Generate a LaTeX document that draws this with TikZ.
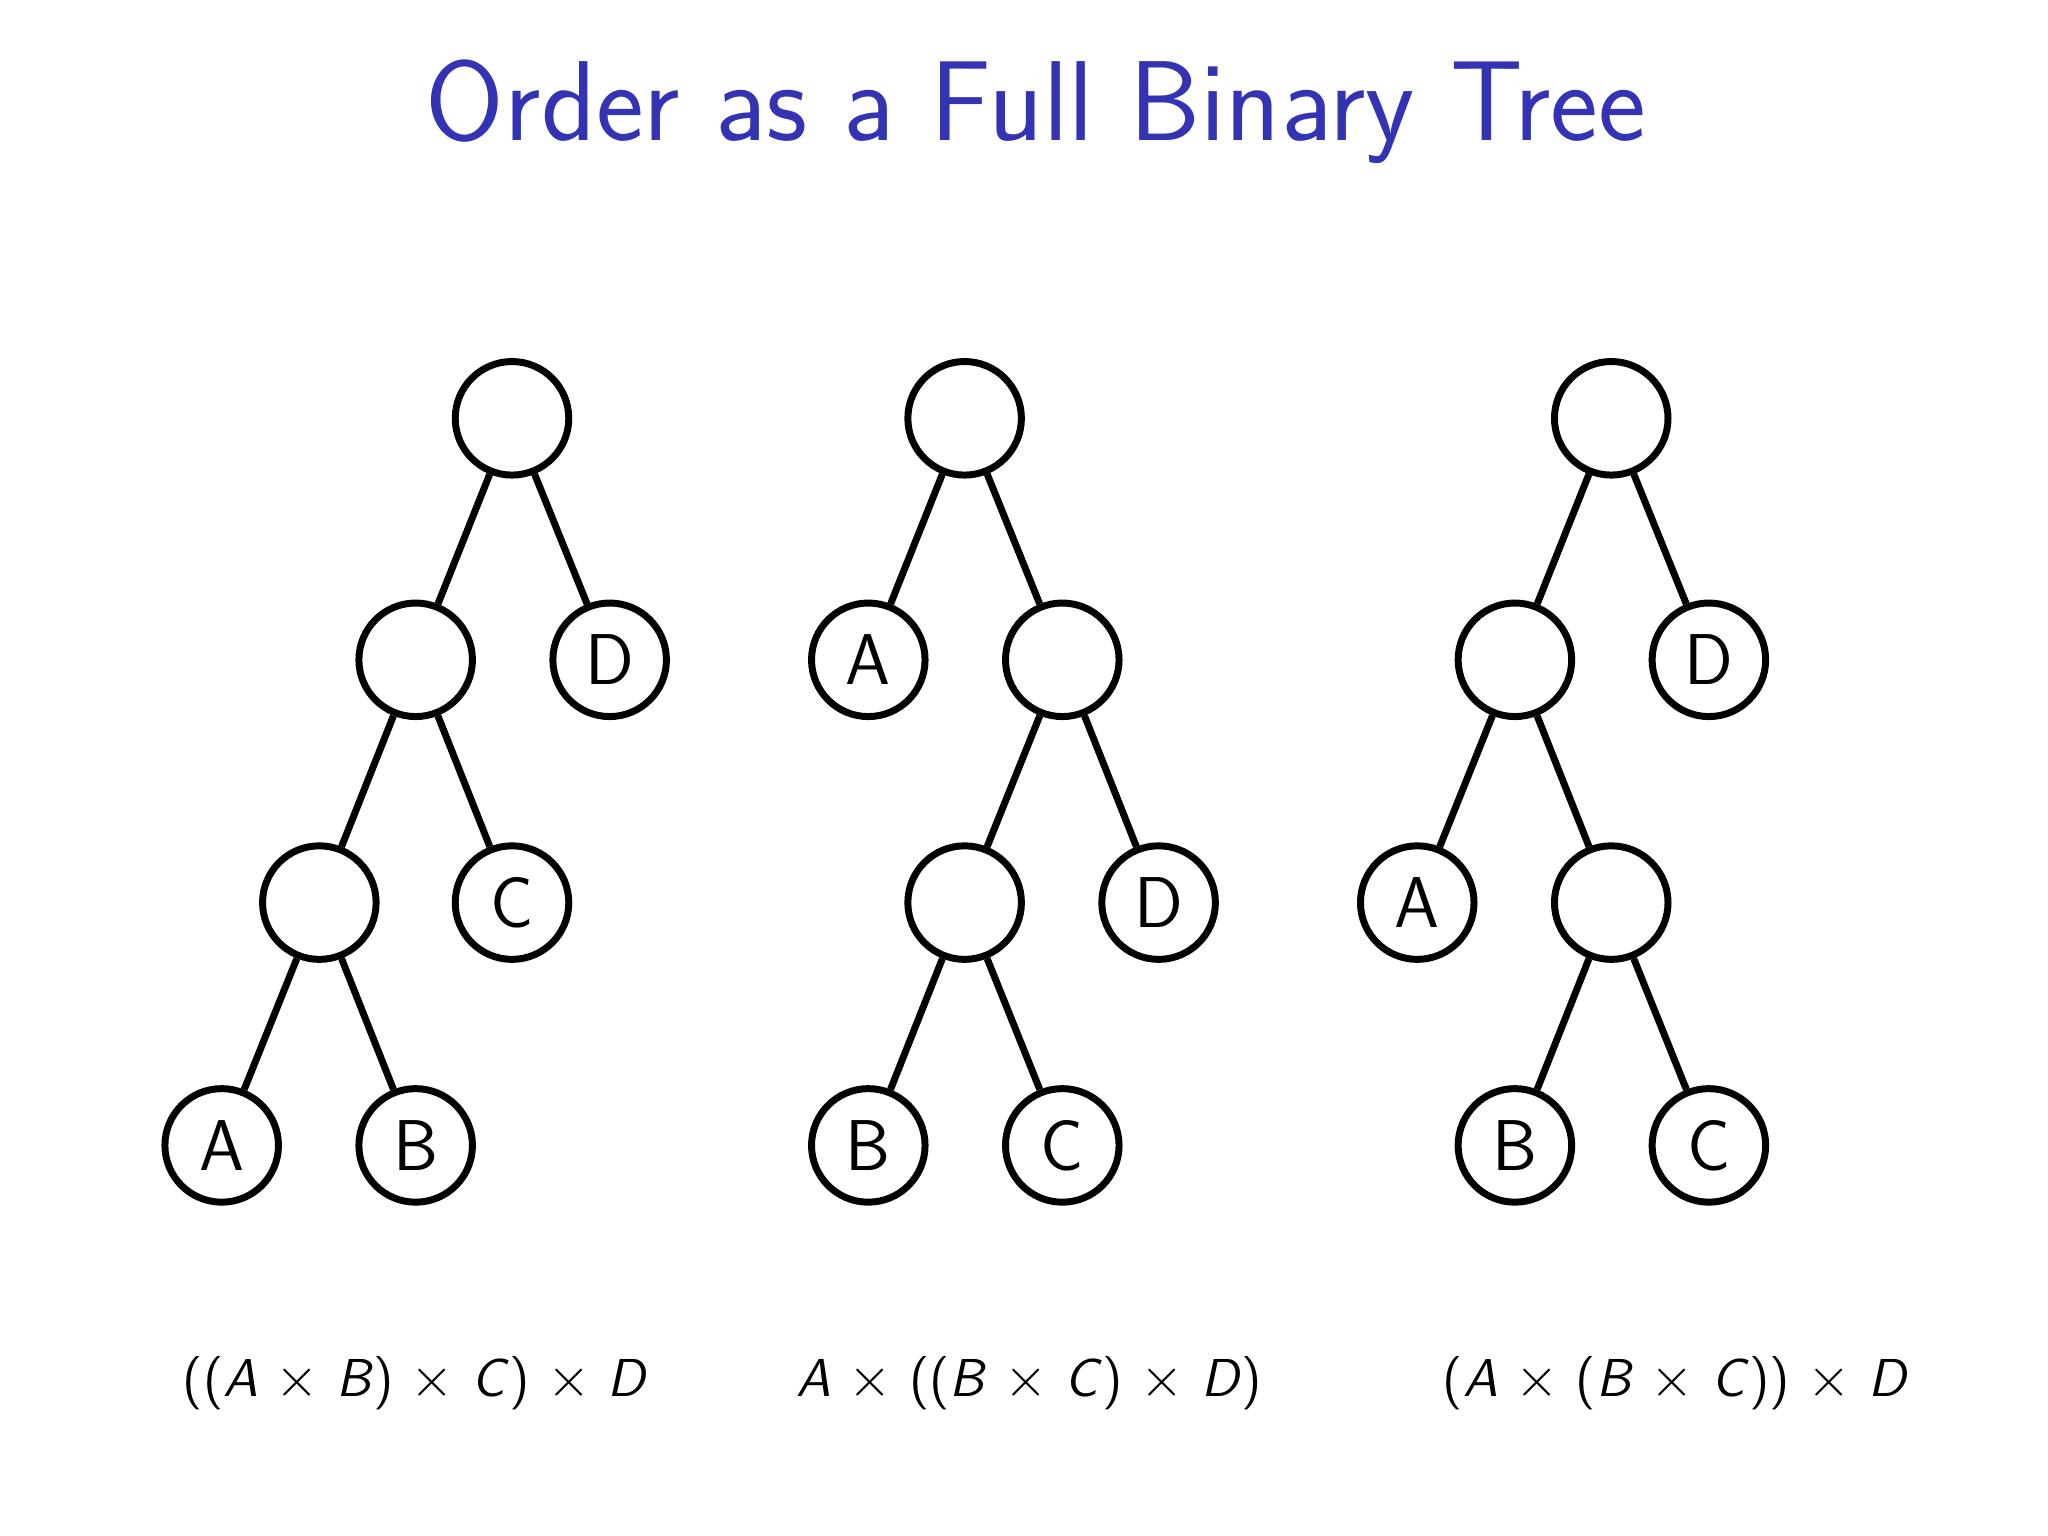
\documentclass[tikz,border=0pt]{standalone}
\usepackage{fontspec}
\begin{document}
\begin{tikzpicture}[x=0.01cm,y=-0.01cm,
  tn/.style={circle,draw,line width=1.5pt,minimum size=0.86cm,inner sep=0pt,font=\sffamily\fontsize{15.5}{15.5}\selectfont},
  ed/.style={line width=1.5pt},
  fm/.style={font=\sffamily\fontsize{11.5}{11.5}\selectfont}]
\useasboundingbox (0,0) rectangle (1552,1164);
\definecolor{tblue}{RGB}{51,51,179}
\node[font=\sffamily\fontsize{24.5}{24.5}\selectfont,text=tblue] (title) at (785,85) {Order as a Full Binary Tree};
% tree 1
\node[tn] (r1) at (388,317) {};
\node[tn] (a1) at (315,500) {};
\node[tn] (d1) at (462,500) {D};
\node[tn] (b1) at (242,684) {};
\node[tn] (c1) at (388,684) {C};
\node[tn] (A1) at (168,868) {A};
\node[tn] (B1) at (315,868) {B};
\draw[ed] (r1)--(a1) (r1)--(d1) (a1)--(b1) (a1)--(c1) (b1)--(A1) (b1)--(B1);
% tree 2
\node[tn] (r2) at (731,317) {};
\node[tn] (A2) at (658,500) {A};
\node[tn] (a2) at (805,500) {};
\node[tn] (b2) at (731,684) {};
\node[tn] (D2) at (878,684) {D};
\node[tn] (B2) at (658,868) {B};
\node[tn] (C2) at (805,868) {C};
\draw[ed] (r2)--(A2) (r2)--(a2) (a2)--(b2) (a2)--(D2) (b2)--(B2) (b2)--(C2);
% tree 3
\node[tn] (r3) at (1221,317) {};
\node[tn] (a3) at (1148,500) {};
\node[tn] (D3) at (1295,500) {D};
\node[tn] (A3) at (1074,684) {A};
\node[tn] (b3) at (1221,684) {};
\node[tn] (B3) at (1148,868) {B};
\node[tn] (C3) at (1295,868) {C};
\draw[ed] (r3)--(a3) (r3)--(D3) (a3)--(A3) (a3)--(b3) (b3)--(B3) (b3)--(C3);
% formulas
\node[fm] (f1) at (315,1048) {((\textit{A} $\times$ \textit{B}) $\times$ \textit{C}) $\times$ \textit{D}};
\node[fm] (f2) at (780,1048) {\textit{A} $\times$ ((\textit{B} $\times$ \textit{C}) $\times$ \textit{D})};
\node[fm] (f3) at (1270,1048) {(\textit{A} $\times$ (\textit{B} $\times$ \textit{C})) $\times$ \textit{D}};
\end{tikzpicture}
\end{document}
